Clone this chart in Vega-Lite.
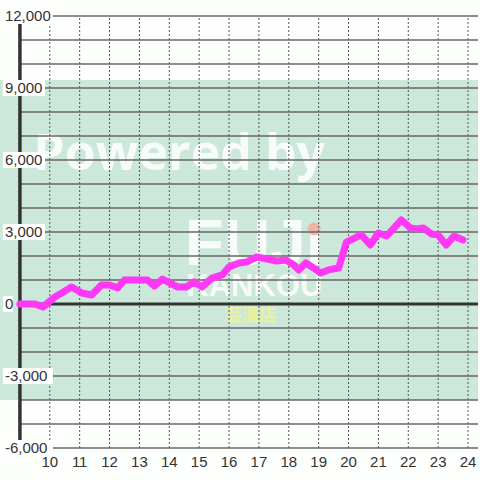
{
  "$schema": "https://vega.github.io/schema/vega-lite/v6.json",
  "width": 480,
  "height": 480,
  "autosize": {"type": "fit", "contains": "padding"},
  "padding": 0,
  "background": "#fdfffd",
  "config": {"view": {"stroke": null}},
  "datasets": {
    "line": [
      {"h": 9.0, "v": 0}, {"h": 9.5, "v": 0}, {"h": 9.77, "v": -125}, {"h": 10.17, "v": 290},
      {"h": 10.4, "v": 460}, {"h": 10.73, "v": 710}, {"h": 11.07, "v": 460}, {"h": 11.4, "v": 375},
      {"h": 11.73, "v": 790}, {"h": 12.0, "v": 790}, {"h": 12.27, "v": 670}, {"h": 12.5, "v": 1000},
      {"h": 13.27, "v": 1000}, {"h": 13.5, "v": 750}, {"h": 13.77, "v": 1040}, {"h": 14.27, "v": 710},
      {"h": 14.57, "v": 710}, {"h": 14.83, "v": 920}, {"h": 15.1, "v": 710}, {"h": 15.43, "v": 1080},
      {"h": 15.77, "v": 1210}, {"h": 16.0, "v": 1540}, {"h": 16.33, "v": 1710}, {"h": 16.6, "v": 1750},
      {"h": 16.93, "v": 1960}, {"h": 17.27, "v": 1875}, {"h": 17.6, "v": 1790}, {"h": 17.9, "v": 1830},
      {"h": 18.17, "v": 1625}, {"h": 18.33, "v": 1420}, {"h": 18.57, "v": 1710}, {"h": 18.83, "v": 1500},
      {"h": 19.07, "v": 1290}, {"h": 19.33, "v": 1420}, {"h": 19.67, "v": 1500}, {"h": 19.93, "v": 2580},
      {"h": 20.27, "v": 2790}, {"h": 20.43, "v": 2875}, {"h": 20.73, "v": 2460}, {"h": 21.0, "v": 2960},
      {"h": 21.27, "v": 2830}, {"h": 21.77, "v": 3500}, {"h": 22.07, "v": 3170}, {"h": 22.33, "v": 3130},
      {"h": 22.5, "v": 3170}, {"h": 22.77, "v": 2920}, {"h": 23.0, "v": 2875}, {"h": 23.27, "v": 2460},
      {"h": 23.53, "v": 2830}, {"h": 23.83, "v": 2670}
    ],
    "yticks": [
      {"v": 12000, "label": "12,000"}, {"v": 9000, "label": "9,000"}, {"v": 6000, "label": "6,000"},
      {"v": 3000, "label": "3,000"}, {"v": 0, "label": "0"}, {"v": -3000, "label": "-3,000"},
      {"v": -6000, "label": "-6,000"}
    ],
    "hgrid": [
      {"v": -6000}, {"v": -5000}, {"v": -4000}, {"v": -3000}, {"v": -2000}, {"v": -1000},
      {"v": 1000}, {"v": 2000}, {"v": 3000}, {"v": 4000}, {"v": 5000}, {"v": 6000},
      {"v": 7000}, {"v": 8000}, {"v": 9000}, {"v": 10000}, {"v": 11000}, {"v": 12000}
    ],
    "xticks": [
      {"h": 10}, {"h": 11}, {"h": 12}, {"h": 13}, {"h": 14}, {"h": 15}, {"h": 16}, {"h": 17},
      {"h": 18}, {"h": 19}, {"h": 20}, {"h": 21}, {"h": 22}, {"h": 23}, {"h": 24}
    ],
    "one": [{}]
  },
  "layer": [
    {
      "data": {"name": "one"},
      "mark": {"type": "rect", "color": "#cbe8da"},
      "encoding": {
        "x": {"datum": 8.3333, "type": "quantitative", "scale": {"domain": [8.3333, 24.3333], "nice": false, "zero": false}, "axis": null},
        "x2": {"datum": 24.3333},
        "y": {"datum": -4000, "type": "quantitative", "scale": {"domain": [-7333.3, 12666.7], "nice": false, "zero": false}, "axis": null},
        "y2": {"datum": 9333}
      }
    },
    {
      "data": {"name": "yticks"},
      "mark": {"type": "rect", "fill": "#ffffff", "xOffset": -17, "x2Offset": {"expr": "8*length(datum.label) - 15"}, "yOffset": -8, "y2Offset": 8},
      "encoding": {
        "x": {"datum": 9, "type": "quantitative"},
        "x2": {"datum": 9},
        "y": {"field": "v", "type": "quantitative"},
        "y2": {"field": "v"}
      }
    },
    {
      "data": {"name": "one"},
      "mark": {"type": "text", "text": "Powered by", "font": "Open Sans", "fontSize": 50, "fontWeight": 700, "fill": "#ffffff", "opacity": 0.85, "align": "left", "baseline": "alphabetic"},
      "encoding": {
        "x": {"datum": 9.45, "type": "quantitative"},
        "y": {"datum": 5583, "type": "quantitative"}
      }
    },
    {
      "data": {"name": "one"},
      "mark": {"type": "text", "text": "FUJı", "font": "Liberation Sans", "fontSize": 64, "fontWeight": "bold", "fill": "#ffffff", "opacity": 0.85, "align": "left", "baseline": "alphabetic"},
      "encoding": {
        "x": {"datum": 14.52, "type": "quantitative"},
        "y": {"datum": 1625, "type": "quantitative"}
      }
    },
    {
      "data": {"name": "one"},
      "mark": {"type": "text", "text": "KANKOU", "font": "Liberation Sans", "fontSize": 31, "fontWeight": "bold", "fill": "#ffffff", "opacity": 0.85, "align": "left", "baseline": "alphabetic"},
      "encoding": {
        "x": {"datum": 14.57, "type": "quantitative"},
        "y": {"datum": 333, "type": "quantitative"}
      }
    },
    {
      "data": {"name": "one"},
      "mark": {"type": "circle", "size": 170, "fill": "#f6a898", "opacity": 0.8},
      "encoding": {
        "x": {"datum": 18.85, "type": "quantitative"},
        "y": {"datum": 3125, "type": "quantitative"}
      }
    },
    {
      "data": {"name": "one"},
      "mark": {"type": "text", "text": "芸濃店", "font": "Noto Sans CJK JP", "fontSize": 17, "fontWeight": "bold", "fill": "#eef29a", "opacity": 0.95, "align": "center", "baseline": "middle"},
      "encoding": {
        "x": {"datum": 16.73, "type": "quantitative"},
        "y": {"datum": -500, "type": "quantitative"}
      }
    },
    {
      "data": {"name": "xticks"},
      "mark": {"type": "rule", "color": "#555555", "strokeWidth": 1, "strokeDash": [2, 2]},
      "encoding": {
        "x": {"field": "h", "type": "quantitative"},
        "y": {"datum": -6000, "type": "quantitative"},
        "y2": {"datum": 12000}
      }
    },
    {
      "data": {"name": "hgrid"},
      "mark": {"type": "rule", "color": "#666666", "strokeWidth": 1.5},
      "encoding": {
        "y": {"field": "v", "type": "quantitative"},
        "x": {"datum": 9, "type": "quantitative"},
        "x2": {"datum": 24.3333}
      }
    },
    {
      "data": {"name": "one"},
      "mark": {"type": "rule", "color": "#333333", "strokeWidth": 3},
      "encoding": {
        "y": {"datum": 0, "type": "quantitative"},
        "x": {"datum": 9, "type": "quantitative"},
        "x2": {"datum": 24.3333}
      }
    },
    {
      "data": {"name": "one"},
      "mark": {"type": "rule", "color": "#333333", "strokeWidth": 3.5},
      "encoding": {
        "x": {"datum": 9, "type": "quantitative"},
        "y": {"datum": -6000, "type": "quantitative"},
        "y2": {"datum": 12000}
      }
    },
    {
      "data": {"name": "yticks"},
      "mark": {"type": "rect", "fill": "#ffffff", "xOffset": -17, "x2Offset": {"expr": "8*length(datum.label) - 15"}, "yOffset": -8, "y2Offset": 8},
      "encoding": {
        "x": {"datum": 9, "type": "quantitative"},
        "x2": {"datum": 9},
        "y": {"field": "v", "type": "quantitative"},
        "y2": {"field": "v"}
      }
    },
    {
      "data": {"name": "yticks"},
      "mark": {"type": "text", "font": "Liberation Sans", "fontSize": 15, "fill": "#333333", "align": "left", "baseline": "middle", "dx": -15},
      "encoding": {
        "x": {"datum": 9, "type": "quantitative"},
        "y": {"field": "v", "type": "quantitative"},
        "text": {"field": "label"}
      }
    },
    {
      "data": {"name": "xticks"},
      "mark": {"type": "text", "font": "Liberation Sans", "fontSize": 15, "fill": "#333333", "align": "center", "baseline": "middle"},
      "encoding": {
        "x": {"field": "h", "type": "quantitative"},
        "y": {"datum": -6583, "type": "quantitative"},
        "text": {"field": "h", "type": "quantitative"}
      }
    },
    {
      "data": {"name": "line"},
      "mark": {"type": "line", "color": "#ff38f5", "strokeWidth": 7, "strokeCap": "round", "strokeJoin": "round"},
      "encoding": {
        "x": {"field": "h", "type": "quantitative"},
        "y": {"field": "v", "type": "quantitative"}
      }
    }
  ]
}
